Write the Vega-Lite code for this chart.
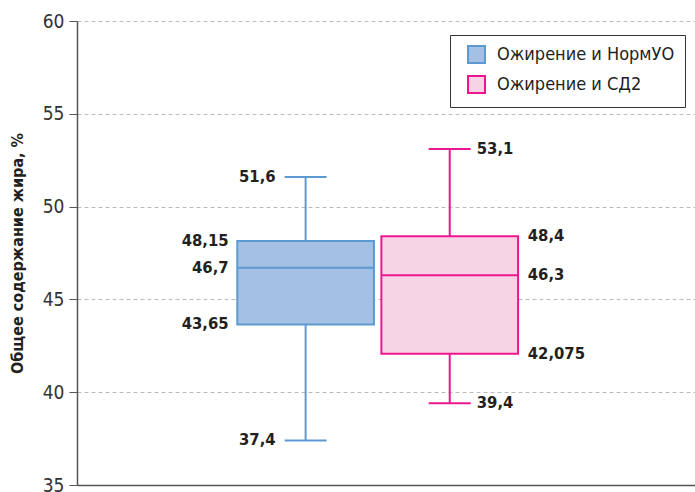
{
  "$schema": "https://vega.github.io/schema/vega-lite/v6.json",
  "width": 618,
  "height": 464,
  "autosize": {"type": "none"},
  "padding": {"left": 77, "top": 21, "right": 0, "bottom": 7},
  "background": "white",
  "config": {
    "locale": {"number": {"decimal": ",", "thousands": " ", "grouping": [3], "currency": ["", " руб."]}},
    "view": {"stroke": null},
    "font": "DejaVu Sans Condensed, sans-serif"
  },
  "datasets": {
    "boxes": [
      {"group": "Ожирение и НормУО", "min": 37.4, "q1": 43.65, "median": 46.7, "q3": 48.15, "max": 51.6},
      {"group": "Ожирение и СД2", "min": 39.4, "q1": 42.075, "median": 46.3, "q3": 48.4, "max": 53.1}
    ],
    "labels": [
      {"group": "Ожирение и НормУО", "stat": "max", "value": 51.6},
      {"group": "Ожирение и НормУО", "stat": "q3", "value": 48.15},
      {"group": "Ожирение и НормУО", "stat": "median", "value": 46.7},
      {"group": "Ожирение и НормУО", "stat": "q1", "value": 43.65},
      {"group": "Ожирение и НормУО", "stat": "min", "value": 37.4},
      {"group": "Ожирение и СД2", "stat": "max", "value": 53.1},
      {"group": "Ожирение и СД2", "stat": "q3", "value": 48.4},
      {"group": "Ожирение и СД2", "stat": "median", "value": 46.3},
      {"group": "Ожирение и СД2", "stat": "q1", "value": 42.075},
      {"group": "Ожирение и СД2", "stat": "min", "value": 39.4}
    ]
  },
  "encoding": {
    "x": {
      "field": "group", "type": "nominal",
      "scale": {"domain": ["_a", "Ожирение и НормУО", "Ожирение и СД2", "_b"], "paddingInner": 0.0514, "paddingOuter": 0.17, "align": 0.33},
      "axis": {"title": null, "labels": false, "ticks": false, "domain": true, "domainColor": "#555", "domainWidth": 1.5, "grid": false}
    }
  },
  "layer": [
    {
      "data": {"name": "boxes"},
      "mark": {"type": "rule", "strokeWidth": 2},
      "encoding": {
        "y": {
          "field": "min", "type": "quantitative",
          "scale": {"domain": [35, 60], "nice": false, "zero": false},
          "axis": {
            "title": "Общее содержание жира, %", "titleFontSize": 16, "titleFontWeight": "bold", "titleColor": "#231f20", "titlePadding": 17,
            "values": [35, 40, 45, 50, 55, 60], "format": "d",
            "labelFontSize": 19, "labelColor": "#333", "labelPadding": 5,
            "tickSize": 8, "tickColor": "#555", "tickWidth": 1,
            "domainColor": "#555", "domainWidth": 1.5,
            "grid": true, "gridDash": [4, 3], "gridColor": "#bbb", "gridWidth": 1
          }
        },
        "y2": {"field": "max"},
        "stroke": {"field": "group", "type": "nominal", "scale": {"domain": ["Ожирение и НормУО", "Ожирение и СД2"], "range": ["#5e9ad2", "#ec178f"]}}
      }
    },
    {
      "data": {"name": "boxes"},
      "mark": {"type": "bar", "strokeWidth": 2, "opacity": 1},
      "encoding": {
        "y": {"field": "q1", "type": "quantitative"},
        "y2": {"field": "q3"},
        "fill": {
          "field": "group", "type": "nominal",
          "scale": {"domain": ["Ожирение и НормУО", "Ожирение и СД2"], "range": ["#a4c0e3", "#f7d4e5"]},
          "legend": {
            "title": null, "orient": "none", "legendX": 373, "legendY": 14,
            "symbolType": "square", "symbolSize": 289, "symbolStrokeWidth": 2, "symbolOpacity": 1,
            "labelFontSize": 18, "labelColor": "#231f20", "labelOffset": 11, "labelLimit": 400,
            "strokeColor": "#333", "padding": 10, "rowPadding": 5, "symbolOffset": 7
          }
        },
        "stroke": {
          "field": "group", "type": "nominal",
          "scale": {"domain": ["Ожирение и НормУО", "Ожирение и СД2"], "range": ["#5e9ad2", "#ec178f"]},
          "legend": {
            "title": null, "orient": "none", "legendX": 373, "legendY": 14,
            "symbolType": "square", "symbolSize": 289, "symbolStrokeWidth": 2, "symbolOpacity": 1,
            "labelFontSize": 18, "labelColor": "#231f20", "labelOffset": 11, "labelLimit": 400,
            "strokeColor": "#333", "padding": 10, "rowPadding": 5, "symbolOffset": 7
          }
        }
      }
    },
    {
      "data": {"name": "boxes"},
      "mark": {"type": "tick", "size": 137, "thickness": 2, "opacity": 1},
      "encoding": {
        "y": {"field": "median", "type": "quantitative"},
        "color": {"field": "group", "type": "nominal", "scale": {"domain": ["Ожирение и НормУО", "Ожирение и СД2"], "range": ["#5e9ad2", "#ec178f"]}, "legend": null}
      }
    },
    {
      "data": {"name": "boxes"},
      "mark": {"type": "tick", "size": 42, "thickness": 2, "opacity": 1},
      "encoding": {
        "y": {"field": "min", "type": "quantitative"},
        "color": {"field": "group", "type": "nominal", "legend": null}
      }
    },
    {
      "data": {"name": "boxes"},
      "mark": {"type": "tick", "size": 42, "thickness": 2, "opacity": 1},
      "encoding": {
        "y": {"field": "max", "type": "quantitative"},
        "color": {"field": "group", "type": "nominal", "legend": null}
      }
    },
    {
      "data": {"name": "labels"},
      "transform": [{"filter": {"and": [{"field": "group", "equal": "Ожирение и НормУО"}, {"field": "stat", "oneOf": ["q1", "median", "q3"]}]}}],
      "mark": {"type": "text", "align": "right", "baseline": "middle", "dx": -77, "fontSize": 16.5, "fontWeight": "bold", "color": "#231f20"},
      "encoding": {"y": {"field": "value", "type": "quantitative"}, "text": {"field": "value", "type": "quantitative"}}
    },
    {
      "data": {"name": "labels"},
      "transform": [{"filter": {"and": [{"field": "group", "equal": "Ожирение и НормУО"}, {"field": "stat", "oneOf": ["min", "max"]}]}}],
      "mark": {"type": "text", "align": "right", "baseline": "middle", "dx": -30, "fontSize": 16.5, "fontWeight": "bold", "color": "#231f20"},
      "encoding": {"y": {"field": "value", "type": "quantitative"}, "text": {"field": "value", "type": "quantitative"}}
    },
    {
      "data": {"name": "labels"},
      "transform": [{"filter": {"and": [{"field": "group", "equal": "Ожирение и СД2"}, {"field": "stat", "oneOf": ["q1", "median", "q3"]}]}}],
      "mark": {"type": "text", "align": "left", "baseline": "middle", "dx": 78, "fontSize": 16.5, "fontWeight": "bold", "color": "#231f20"},
      "encoding": {"y": {"field": "value", "type": "quantitative"}, "text": {"field": "value", "type": "quantitative"}}
    },
    {
      "data": {"name": "labels"},
      "transform": [{"filter": {"and": [{"field": "group", "equal": "Ожирение и СД2"}, {"field": "stat", "oneOf": ["min", "max"]}]}}],
      "mark": {"type": "text", "align": "left", "baseline": "middle", "dx": 27, "fontSize": 16.5, "fontWeight": "bold", "color": "#231f20"},
      "encoding": {"y": {"field": "value", "type": "quantitative"}, "text": {"field": "value", "type": "quantitative"}}
    }
  ]
}
